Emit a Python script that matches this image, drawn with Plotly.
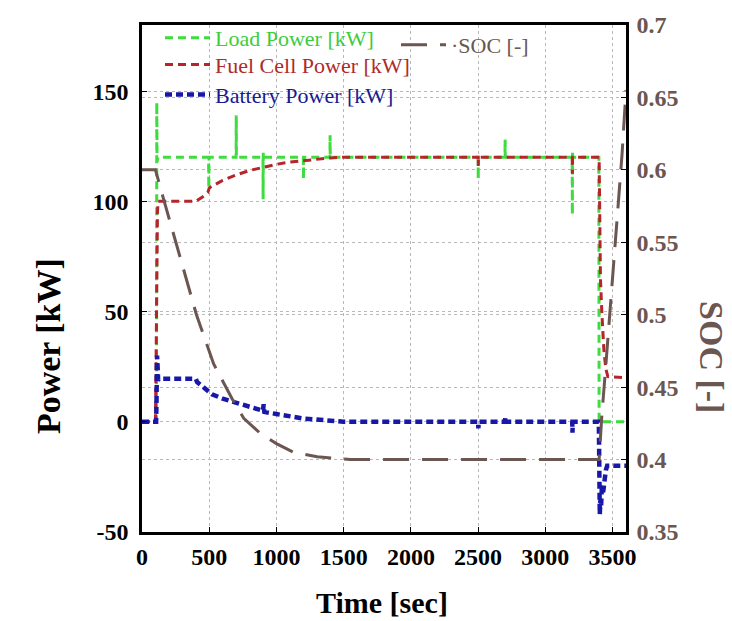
import plotly.graph_objects as go

# ---------------- data ----------------
load_t = [0, 108, 110, 112, 114, 116, 120, 495, 497, 499, 700, 701, 702, 900, 901, 902, 903,
          1200, 1201, 1202, 1398, 1399, 1400, 2500, 2501, 2502, 2700, 2701, 2702,
          3200, 3201, 3202, 3203, 3398, 3400, 3600]
load_kw = [0, 0, 145, 118, 128, 119, 120, 120, 106, 120, 120, 139, 120, 120, 101, 122, 120,
           120, 110, 120, 120, 130, 120, 120, 110, 120, 120, 128, 120,
           120, 94, 123, 120, 120, 0, 0]

fc_t = [0, 100, 105, 110, 115, 120, 130, 400, 450, 490, 500, 510, 600, 700, 800, 900, 1000,
        1100, 1200, 1300, 1400, 1500, 2500, 2501, 2502, 3200, 3201, 3203, 3400, 3410, 3420,
        3435, 3450, 3465, 3600]
fc_kw = [0, 0, 30, 70, 95, 100, 100, 100, 102, 104, 106, 106.5, 109.5, 112, 114, 115.5, 116.8,
         117.8, 118.5, 119.2, 119.7, 120, 120, 116, 120, 120, 112.5, 120, 120, 65, 50,
         33, 24, 20.5, 20]

bat_t = [0, 105, 108, 110, 112, 114, 116, 120, 130, 400, 410, 500, 520, 600, 700, 800, 900,
         905, 910, 1000, 1100, 1200, 1300, 1400, 1500, 2500, 2502, 2504, 2700, 2702, 2704,
         3200, 3202, 3204, 3398, 3400, 3405, 3410, 3415, 3420, 3430, 3440, 3450, 3460, 3600]
bat_kw = [0, 0, 10, 28, 30, 22, 25, 19, 19.5, 19.5, 18, 13.5, 12.5, 10.5, 8.5, 6.5, 5,
          8, 4.5, 3.5, 2.3, 1.5, 1, 0.5, 0, 0, -3, 0, 0, 2, 0,
          0, -5, 0, 0, -10, -42, -35, -38, -30, -32, -25, -22, -20, -20]

soc_t = [0, 100, 160, 280, 405, 533, 670, 757, 881, 1000, 1129, 1303, 1551,
         3400, 3420, 3450, 3480, 3510, 3540, 3570, 3600]
soc = [0.6, 0.6, 0.58, 0.54, 0.5, 0.466, 0.442, 0.4285, 0.418, 0.411, 0.405, 0.402, 0.4,
       0.4, 0.43, 0.465, 0.5, 0.54, 0.575, 0.61, 0.655]

x_ticks = [0, 500, 1000, 1500, 2000, 2500, 3000, 3500]
p_ticks = [-50, 0, 50, 100, 150]
p_labels = ["-50", "0", "50", "100", "150"]
soc_ticks = [0.35, 0.4, 0.45, 0.5, 0.55, 0.6, 0.65, 0.7]

GREEN = "#3fdc3f"
RED = "#b3262a"
BLUE = "#1818a8"
BROWN = "#6b5651"
SERIF = "Liberation Serif"

fig = go.Figure()
fig.add_trace(go.Scatter(
    x=load_t, y=load_kw, mode="lines", legend="legend",
    name='<span style="color:#3ccc3c">Load Power [kW]</span>',
    line=dict(color=GREEN, width=3, dash="8px,5px")))
fig.add_trace(go.Scatter(
    x=fc_t, y=fc_kw, mode="lines", legend="legend2",
    name='<span style="color:#b02a2a">Fuel Cell Power [kW]</span>',
    line=dict(color=RED, width=3, dash="8px,5px")))
fig.add_trace(go.Scatter(
    x=bat_t, y=bat_kw, mode="lines", legend="legend3",
    name='<span style="color:#1a1a90">Battery Power [kW]</span>',
    line=dict(color=BLUE, width=4.5, dash="7px,4px")))
fig.add_trace(go.Scatter(
    x=soc_t, y=soc, mode="lines", yaxis="y2", legend="legend4",
    name='<span style="color:#6b5651">·SOC [-]</span>',
    line=dict(color=BROWN, width=3, dash="26px,13px")))

def legend_at(x, y):
    return dict(x=x, y=y, xanchor="left", yanchor="middle", bgcolor="rgba(0,0,0,0)",
                borderwidth=0, font=dict(family=SERIF, size=22), itemwidth=45)

PL, PT, PW, PH = 142, 22, 484, 510
def px(X):
    return (X - PL) / PW
def py(Y):
    return (PT + PH - Y) / PH

fig.update_layout(
    width=732, height=621,
    margin=dict(l=PL, r=732 - PL - PW, t=PT, b=621 - PT - PH),
    paper_bgcolor="white", plot_bgcolor="white",
    showlegend=True,
    legend=legend_at(px(160), py(35)),
    legend2=legend_at(px(160), py(62)),
    legend3=legend_at(px(160), py(92)),
    legend4=legend_at(px(396), py(42)),
    xaxis=dict(range=[0, 3600], tickvals=x_ticks, showline=True, linecolor="black",
               linewidth=2.5, mirror=True, showgrid=True, gridcolor="#b8b8b8",
               griddash="dot", gridwidth=1, zeroline=False, ticks="inside", ticklen=5,
               tickcolor="black", ticklabelstandoff=1,
               tickfont=dict(family=SERIF, size=24, color="black", weight="bold")),
    yaxis=dict(range=[-50, 180], tickvals=p_ticks, ticktext=p_labels, showline=True,
               linecolor="black", linewidth=2.5, mirror=True, showgrid=True,
               gridcolor="#b8b8b8", griddash="dot", gridwidth=1, zeroline=False,
               ticks="inside", ticklen=5, tickcolor="black", ticklabelstandoff=6,
               tickfont=dict(family=SERIF, size=24, color="black", weight="bold")),
    yaxis2=dict(range=[0.35, 0.7], tickvals=soc_ticks, overlaying="y", side="right",
                showline=True, linecolor="black", linewidth=2.5, showgrid=True,
                gridcolor="#b8b8b8", griddash="dot", gridwidth=1, zeroline=False,
                ticks="inside", ticklen=5, tickcolor="black", ticklabelstandoff=3,
                tickfont=dict(family=SERIF, size=24, color=BROWN, weight="bold")),
    annotations=[
        dict(text="Power [kW]", xref="paper", yref="paper", x=px(48), y=py(345),
             xanchor="center", yanchor="middle", textangle=-90, showarrow=False,
             font=dict(family=SERIF, size=34, color="black", weight="bold")),
        dict(text="SOC [-]", xref="paper", yref="paper", x=px(712), y=py(356),
             xanchor="center", yanchor="middle", textangle=90, showarrow=False,
             font=dict(family=SERIF, size=34, color=BROWN, weight="bold")),
        dict(text="Time [sec]", xref="paper", yref="paper", x=px(382), y=py(603),
             xanchor="center", yanchor="middle", showarrow=False,
             font=dict(family=SERIF, size=30, color="black", weight="bold")),
    ],
)

fig.write_html("out.html")
